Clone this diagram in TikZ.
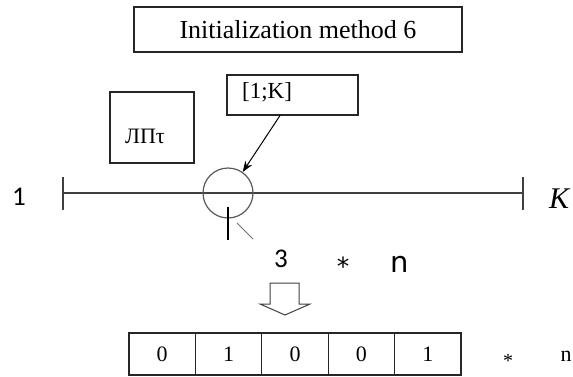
\documentclass[tikz,border=0pt]{standalone}
\usepackage{fontspec}
\setmainfont{Liberation Serif}
\newfontfamily\carl{Carlito}
\newfontfamily\dvs{DejaVu Sans}
\usetikzlibrary{arrows.meta}
\tikzset{
  boxst/.style={draw=black!85, line width=1.1pt, rectangle, inner sep=0pt},
  cellst/.style={draw=black!85, line width=1.1pt, rectangle, minimum width=66.4pt, minimum height=42pt, inner sep=0pt, font=\fontsize{22}{22}\selectfont},
  lbl/.style={inner sep=0pt},
}
\begin{document}
\begin{tikzpicture}[x=1pt,y=-1pt]
\useasboundingbox (0,0) rectangle (573,376);
% title
\node[boxst, minimum width=328pt, minimum height=45pt, font=\fontsize{26}{26}\selectfont] (title) at (298,29.5) {Initialization method 6};
% LPt box
\node[boxst, minimum width=84pt, minimum height=71pt] (lpbox) at (152,127.5) {};
\node[lbl, font=\fontsize{22}{22}\selectfont] (lptxt) at (145,136) {ЛПτ};
% [1;K] box
\node[boxst, minimum width=131pt, minimum height=40pt] (kbox) at (292.5,95) {};
\node[lbl, font=\fontsize{23}{23}\selectfont] (ktxt) at (267,92) {[1;K]};
% axis
\coordinate (L) at (63,193);
\coordinate (R) at (523,193);
\draw[black!75, line width=1.1pt] (L) -- (R);
\draw[black!75, line width=1.1pt] (63,177) -- (63,210);
\draw[black!75, line width=1.1pt] (523,177) -- (523,210);
\node[lbl, font=\carl\fontsize{27}{27}\selectfont] (one) at (19,197) {1};
\node[lbl, font=\fontsize{30}{30}\selectfont\itshape] (kk) at (559,199) {K};
% circle
\node[draw=black!65, line width=1.2pt, circle, minimum size=50pt, inner sep=0pt] (circ) at (228,193) {};
\draw[line width=1pt, -{Stealth[length=11pt,width=8pt]}] ([xshift=-12.5pt]kbox.south) -- (circ.55);
\draw[black, line width=2pt] (228,207) -- (228,240);
\draw[black!55, line width=1pt] (237,223) -- (253,239);
% 3 * n
\node[lbl, font=\carl\fontsize{27}{27}\selectfont] (three) at (281,259) {3};
\node[lbl, font=\dvs\fontsize{25}{25}\selectfont] (star) at (343,266) {*};
\node[lbl, font=\dvs\fontsize{29}{29}\selectfont] (nn) at (400,264) {n};
% hollow arrow
\draw[black!75, line width=1pt, fill=white] (270,283) -- (299,283) -- (299,304) -- (310,304) -- (285,315) -- (260,304) -- (270,304) -- cycle;
% cells
\node[cellst] (c1) at (162.2,354) {0};
\node[cellst] (c2) at (228.6,354) {1};
\node[cellst] (c3) at (295,354) {0};
\node[cellst] (c4) at (361.4,354) {0};
\node[cellst] (c5) at (427.8,354) {1};
\node[lbl, font=\fontsize{20}{20}\selectfont] (star2) at (508,361) {*};
\node[lbl, font=\fontsize{22}{22}\selectfont] (n2) at (566,356) {n};
\end{tikzpicture}
\end{document}
